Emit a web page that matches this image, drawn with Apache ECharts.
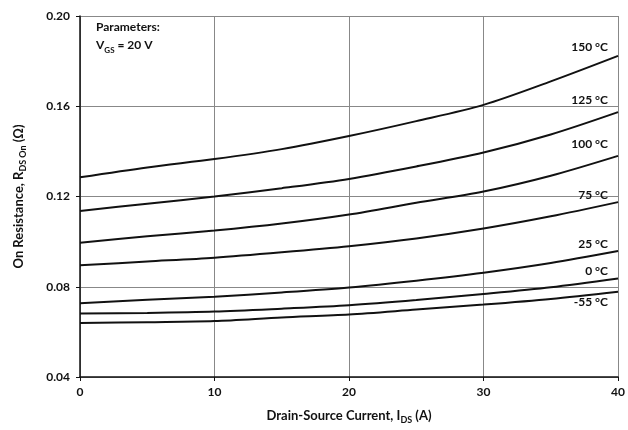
<!DOCTYPE html>
<html>
<head>
<meta charset="utf-8">
<script src="https://cdn.jsdelivr.net/npm/echarts@6/dist/echarts.min.js"></script>
<style>
  html, body { margin: 0; padding: 0; background: #fff; }
  #chart { width: 628px; height: 430px; }
</style>
</head>
<body>
<div id="chart"></div>
<script>
// drain-source current (A)
var current = [0, 5, 10, 15, 20, 25, 30, 35, 40];

// on resistance (ohm) per temperature
var r150 = [0.1285, 0.1329, 0.1366, 0.1410, 0.1468, 0.1534, 0.1606, 0.1710, 0.1823];
var r125 = [0.1136, 0.1168, 0.1200, 0.1237, 0.1278, 0.1333, 0.1395, 0.1475, 0.1574];
var r100 = [0.0995, 0.1024, 0.1049, 0.1080, 0.1120, 0.1172, 0.1222, 0.1292, 0.1380];
var r75  = [0.0895, 0.0912, 0.0929, 0.0953, 0.0980, 0.1014, 0.1058, 0.1112, 0.1175];
var r25  = [0.0727, 0.0742, 0.0756, 0.0775, 0.0797, 0.0827, 0.0862, 0.0905, 0.0958];
var r0   = [0.0681, 0.0684, 0.0690, 0.0703, 0.0718, 0.0741, 0.0768, 0.0798, 0.0837];
var rm55 = [0.0639, 0.0643, 0.0648, 0.0664, 0.0677, 0.0699, 0.0721, 0.0746, 0.0778];

var tempNames = ['150 °C', '125 °C', '100 °C', '75 °C', '25 °C', '0 °C', '-55 °C'];
var allSeries = [r150, r125, r100, r75, r25, r0, rm55];
// label shift from line end (px)
var labelDy = [-9, -12, -12, -7, -7, -7, 10];

var font = 'Lato, "Open Sans", sans-serif';

function pairs(ys) {
  return current.map(function (x, i) { return [x, ys[i]]; });
}

// rich styles for subscripts
function subRich(size, subSize, key) {
  var s = { fontFamily: font, fontWeight: 'bold', fontSize: size, lineHeight: 18 };
  var sub = { fontFamily: font, fontWeight: 'bold', fontSize: subSize, lineHeight: 9, verticalAlign: 'bottom' };
  s[key] = '#111';
  sub[key] = '#111';
  return { s: s, sub: sub };
}

var chart = echarts.init(document.getElementById('chart'));

var series = allSeries.map(function (ys, k) {
  return {
    name: tempNames[k],
    type: 'line',
    data: pairs(ys),
    smooth: 0.3,
    showSymbol: false,
    lineStyle: { color: '#111', width: 2 },
    endLabel: {
      show: true,
      formatter: tempNames[k],
      align: 'right',
      verticalAlign: 'middle',
      offset: [-18, labelDy[k]],
      color: '#111',
      fontFamily: font,
      fontWeight: 'bold',
      fontSize: 12
    },
    z: 3
  };
});

var option = {
  animation: false,
  grid: { left: 80, right: 4, top: 16, bottom: 50 },
  xAxis: {
    type: 'value',
    min: 0, max: 40, interval: 10,
    name: '{s|Drain-Source Current, I}{sub|DS}{s| (A)}',
    nameLocation: 'middle',
    nameGap: 30,
    nameTextStyle: {
      rich: subRich(13, 9, 'color'),
      fontFamily: font, fontWeight: 'bold', fontSize: 13, color: '#111'
    },
    axisLine: { lineStyle: { color: '#111', width: 1.5 } },
    axisTick: { show: true, length: 4, lineStyle: { color: '#111' } },
    axisLabel: { color: '#111', fontFamily: font, fontWeight: 'bold', fontSize: 12, margin: 9 },
    splitLine: { show: true, lineStyle: { color: '#888', width: 1 } }
  },
  yAxis: {
    type: 'value',
    min: 0.04, max: 0.20, interval: 0.04,
    name: '{s|On Resistance, R}{sub|DS On}{s| (Ω)}',
    nameLocation: 'middle',
    nameGap: 52,
    nameRotate: 90,
    nameTextStyle: {
      rich: subRich(13, 9, 'color'),
      fontFamily: font, fontWeight: 'bold', fontSize: 13, color: '#111'
    },
    axisLine: { show: true, lineStyle: { color: '#111', width: 1.5 } },
    axisTick: { show: true, length: 4, lineStyle: { color: '#111' } },
    axisLabel: {
      color: '#111', fontFamily: font, fontWeight: 'bold', fontSize: 12, margin: 10,
      formatter: function (v) { return v.toFixed(2); }
    },
    splitLine: { show: true, lineStyle: { color: '#888', width: 1 } }
  },
  graphic: [{
    type: 'text',
    left: 96,
    top: 21,
    style: {
      text: '{s|Parameters:}\n{s|V}{sub|GS}{s| = 20 V}',
      rich: subRich(12, 8, 'fill')
    }
  }],
  series: series
};

chart.setOption(option);
</script>
</body>
</html>
